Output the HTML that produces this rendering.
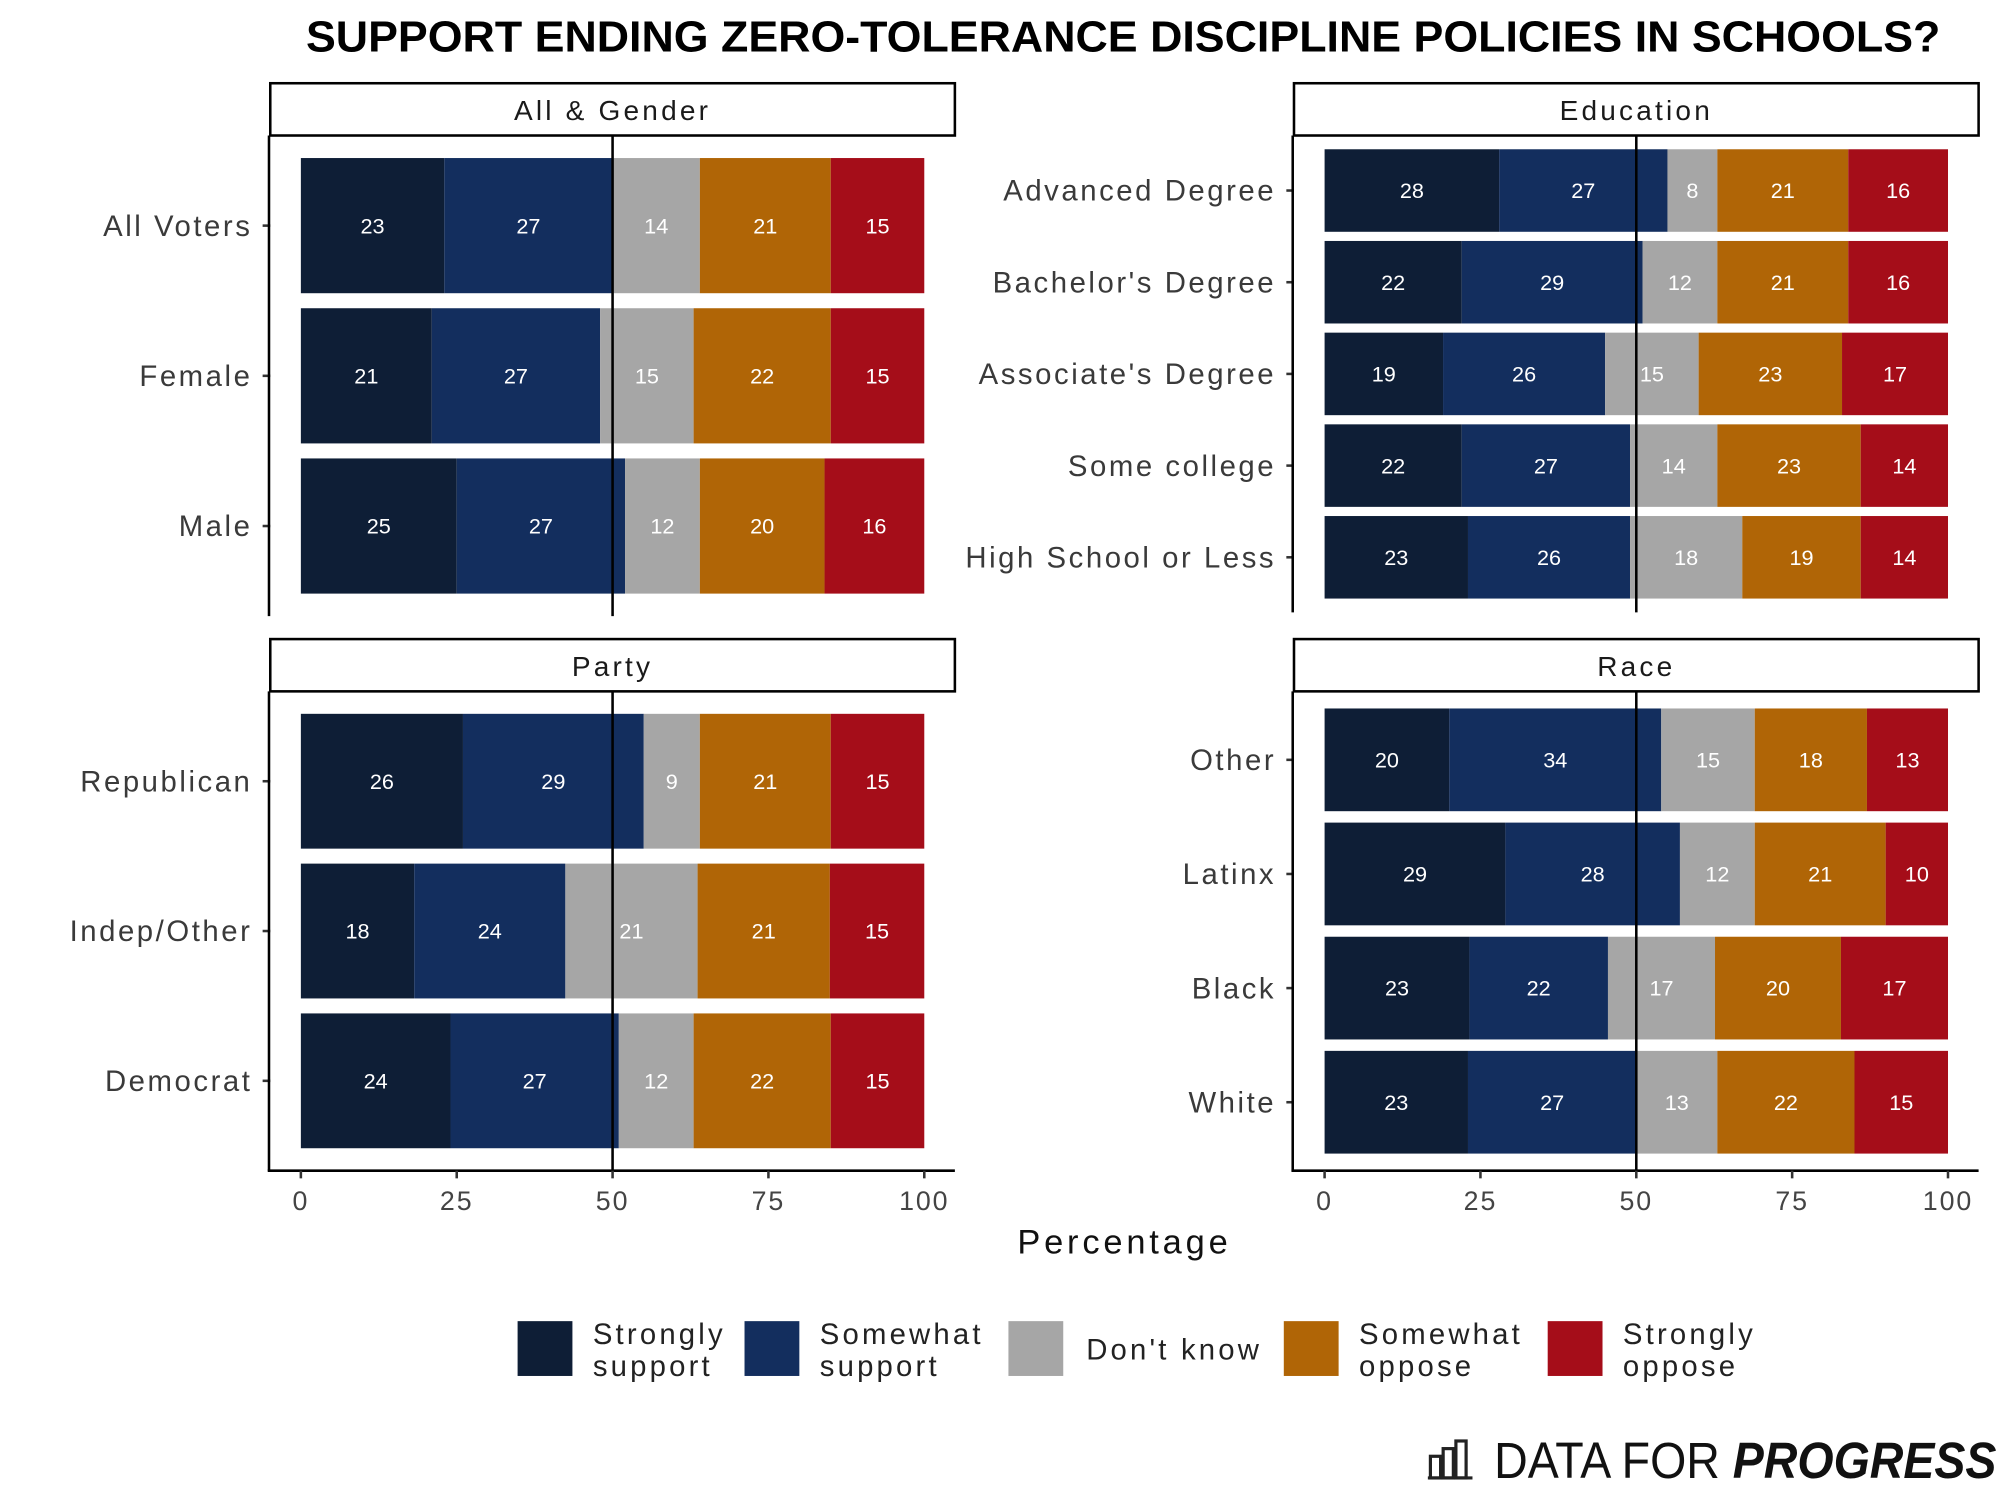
<!DOCTYPE html>
<html><head><meta charset="utf-8"><style>
html,body{margin:0;padding:0;background:#fff}
svg{display:block}
</style></head><body>
<svg id="chart" width="1999" height="1500" viewBox="0 0 1568 1176" xmlns="http://www.w3.org/2000/svg">
<text x="881" y="40" text-anchor="middle" font-family="Liberation Sans, sans-serif" font-weight="bold" font-size="34" textLength="1282" lengthAdjust="spacingAndGlyphs" fill="#000">SUPPORT ENDING ZERO-TOLERANCE DISCIPLINE POLICIES IN SCHOOLS?</text>
<g id="panels"></g>
<text x="882" y="983" text-anchor="middle" font-family="Liberation Sans, sans-serif" font-size="27" letter-spacing="3" fill="#111">Percentage</text>
<g id="legend"></g>
<g>
<g fill="none" stroke="#222" stroke-width="2.5">
<rect x="1122" y="1142" width="8" height="17"/><rect x="1132" y="1136" width="8" height="23"/><rect x="1142" y="1130" width="8" height="29"/><line x1="1120" y1="1159" x2="1155" y2="1159"/>
</g>
<text x="1172" y="1159" font-family="Liberation Sans, sans-serif" font-size="40" fill="#111" textLength="394" lengthAdjust="spacingAndGlyphs"><tspan font-weight="normal">DATA FOR </tspan><tspan font-weight="bold" font-style="italic">PROGRESS</tspan></text>
</g>
</svg>
<script>
const colors = ["#0e1e36","#132e5e","#a6a6a6","#b06506","#a50d19"];
const legendLabels = [["Strongly","support"],["Somewhat","support"],["Don't know"],["Somewhat","oppose"],["Strongly","oppose"]];
const xTicks = [0,25,50,75,100];

const genderCats = ["All Voters","Female","Male"];
const genderVals = [[23,27,14,21,15],[21,27,15,22,15],[25,27,12,20,16]];
const eduCats = ["Advanced Degree","Bachelor's Degree","Associate's Degree","Some college","High School or Less"];
const eduVals = [[28,27,8,21,16],[22,29,12,21,16],[19,26,15,23,17],[22,27,14,23,14],[23,26,18,19,14]];
const partyCats = ["Republican","Indep/Other","Democrat"];
const partyVals = [[26,29,9,21,15],[18,24,21,21,15],[24,27,12,22,15]];
const raceCats = ["Other","Latinx","Black","White"];
const raceVals = [[20,34,15,18,13],[29,28,12,21,10],[23,22,17,20,17],[23,27,13,22,15]];

const NS = "http://www.w3.org/2000/svg";
function mk(tag, attrs, parent){const e=document.createElementNS(NS,tag);for(const k in attrs)e.setAttribute(k,attrs[k]);parent.appendChild(e);return e;}
const root = document.getElementById('panels');
const FONT = "Liberation Sans, sans-serif";

const panels = [
 {title:"All & Gender", cats:genderCats, vals:genderVals, left:212, right:749, top:106, bottom:483, axis:false},
 {title:"Education", cats:eduCats, vals:eduVals, left:1015, right:1552, top:106, bottom:480, axis:false},
 {title:"Party", cats:partyCats, vals:partyVals, left:212, right:749, top:542, bottom:918, axis:true},
 {title:"Race", cats:raceCats, vals:raceVals, left:1015, right:1552, top:542, bottom:918, axis:true}
];

panels.forEach(p=>{
  const g = mk('g',{},root);
  
  
  const x0 = p.left+24, x1 = p.right-24;
  const xs = v => x0 + (x1-x0)*v/100;
  const n = p.cats.length;
  const step = (p.bottom-p.top)/(n+0.2);
  const yc = i => p.top + (0.6+i)*step;
  const st = mk('rect',{x:p.left,y:p.top-41,width:p.right-p.left,height:41,fill:'#fff',stroke:'#000','stroke-width':2},g);
  
  
  const stt = mk('text',{x:(p.left+p.right)/2,y:p.top-12,'text-anchor':'middle','font-family':FONT,'font-size':22,'letter-spacing':2.5,fill:'#1a1a1a'},g);
  stt.textContent = p.title;
  
  
  p.cats.forEach((c,i)=>{
    const vals = p.vals[i];
    const tot = vals.reduce((a,b)=>a+b,0);
    let cum = 0;
    const bh = step*0.9;
    vals.forEach((v,k)=>{
      const a = xs(cum/tot*100), b = xs((cum+v)/tot*100);
      const r = mk('rect',{x:a,y:yc(i)-bh/2,width:b-a,height:bh,fill:colors[k]},g);
      
      
      const t = mk('text',{x:(a+b)/2,y:yc(i)+6,'text-anchor':'middle','font-family':FONT,'font-size':17,fill:'#fff'},g);
      t.textContent = v;
      
      
      cum += v;
    });
    const lab = mk('text',{x:p.left-14,y:yc(i)+8,'text-anchor':'end','font-family':FONT,'font-size':23,'letter-spacing':2,fill:'#3a3a3a'},g);
    lab.textContent = c;
    
    
    mk('line',{x1:p.left-6,x2:p.left,y1:yc(i),y2:yc(i),stroke:'#333','stroke-width':2},g);
  });
  const ml = mk('line',{x1:xs(50),x2:xs(50),y1:p.top,y2:p.bottom,stroke:'#000','stroke-width':2},g);
  
  
  const la = mk('line',{x1:p.left-1,x2:p.left-1,y1:p.top,y2:p.bottom,stroke:'#000','stroke-width':2},g);
  
  
  if(p.axis){
    const ba = mk('line',{x1:p.left-2,x2:p.right,y1:p.bottom,y2:p.bottom,stroke:'#000','stroke-width':2},g);
    
    
    xTicks.forEach(t=>{
      mk('line',{x1:xs(t),x2:xs(t),y1:p.bottom,y2:p.bottom+6,stroke:'#333','stroke-width':2},g);
      const tl = mk('text',{x:xs(t),y:p.bottom+31,'text-anchor':'middle','font-family':FONT,'font-size':21,'letter-spacing':1.5,fill:'#444'},g);
      tl.textContent = t;
      
      
    });
  }
});

const lg = document.getElementById('legend');
const legX = [406,584,791,1007,1214];
legendLabels.forEach((lab,k)=>{
  const g = mk('g',{},lg);
  
  
  mk('rect',{x:legX[k],y:1036,width:43,height:43,fill:colors[k]},g);
  const tx = legX[k]+59 - (lab.length===1?-2:0);
  const common = {'font-family':FONT,'font-size':23,'letter-spacing':2.5,fill:'#222'};
  if(lab.length===1){
    const t = mk('text',Object.assign({x:tx,y:1066},common),g);
    t.textContent = lab[0];
  } else {
    const t1 = mk('text',Object.assign({x:tx,y:1054},common),g);
    t1.textContent = lab[0];
    const t2 = mk('text',Object.assign({x:tx,y:1079},common),g);
    t2.textContent = lab[1];
  }
});
</script>
</body></html>
